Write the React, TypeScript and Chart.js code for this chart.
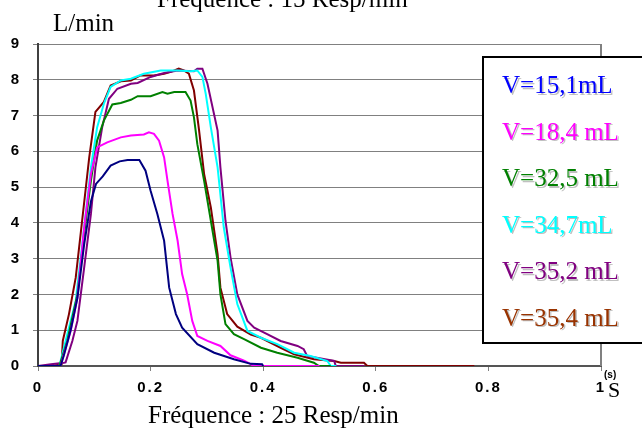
import React, { useEffect, useRef } from "react";
import { Chart, registerables } from "chart.js";

Chart.register(...registerables);

// ---- axis ticks ----
const xTickValues = [0, 0.2, 0.4, 0.6, 0.8, 1];
const xTickLabels = ["0", "0.2", "0.4", "0.6", "0.8", "1"];
const yTickValues = [0, 1, 2, 3, 4, 5, 6, 7, 8, 9];
const yTickLabels = ["0", "1", "2", "3", "4", "5", "6", "7", "8", "9"];

// ---- texts ----
const topTitle = "Fréquence : 15 Resp/min";
const bottomTitle = "Fréquence : 25 Resp/min";
const yUnit = "L/min";
const xUnitSup = "(s)";
const xUnit = "S";

// ---- series ----
const seriesNames = ["V=15,1mL", "V=18,4 mL", "V=32,5 mL", "V=34,7mL", "V=35,2 mL", "V=35,4 mL"];
const lineColors = ["#000080", "#FF00FF", "#008000", "#00FFFF", "#800080", "#800000"];
const legendColors = ["#0000FF", "#FF00FF", "#008000", "#00FFFF", "#800080", "#993300"];

// V=15,1 mL
const t151 = [0, 0.04, 0.046, 0.058, 0.07, 0.082, 0.094, 0.103, 0.115, 0.129, 0.145, 0.159, 0.18, 0.191, 0.2, 0.212, 0.224, 0.233, 0.245, 0.256, 0.283, 0.313, 0.348, 0.378, 0.398, 0.4];
const f151 = [0, 0, 0.3, 1.0, 1.9, 3.4, 4.6, 5.09, 5.3, 5.6, 5.72, 5.76, 5.76, 5.46, 4.9, 4.25, 3.5, 2.19, 1.45, 1.07, 0.61, 0.37, 0.19, 0.06, 0.05, 0];

// V=18,4 mL
const t184 = [0, 0.04, 0.046, 0.058, 0.07, 0.082, 0.094, 0.105, 0.123, 0.147, 0.165, 0.188, 0.197, 0.206, 0.215, 0.224, 0.23, 0.239, 0.248, 0.256, 0.265, 0.274, 0.283, 0.301, 0.324, 0.342, 0.366, 0.378, 0.383, 0.5];
const f184 = [0, 0, 0.33, 0.98, 1.91, 3.87, 5.37, 6.11, 6.25, 6.39, 6.44, 6.47, 6.53, 6.49, 6.3, 5.83, 5.18, 4.25, 3.5, 2.57, 2.0, 1.26, 0.84, 0.7, 0.56, 0.3, 0.15, 0.05, 0, 0];

// V=32,5 mL
const t325 = [0, 0.038, 0.052, 0.07, 0.082, 0.094, 0.105, 0.117, 0.132, 0.147, 0.165, 0.177, 0.2, 0.221, 0.23, 0.242, 0.262, 0.271, 0.277, 0.283, 0.295, 0.307, 0.319, 0.324, 0.333, 0.348, 0.366, 0.396, 0.425, 0.461, 0.49, 0.499, 0.52];
const f325 = [0, 0, 0.7, 2.0, 3.69, 5.18, 6.3, 6.86, 7.31, 7.35, 7.44, 7.54, 7.54, 7.66, 7.61, 7.66, 7.66, 7.42, 6.95, 6.2, 5.18, 4.06, 2.94, 2.0, 1.17, 0.89, 0.75, 0.51, 0.37, 0.23, 0.09, 0, 0];

// V=34,7 mL
const t347 = [0, 0.038, 0.052, 0.067, 0.082, 0.094, 0.105, 0.117, 0.129, 0.147, 0.165, 0.188, 0.218, 0.248, 0.271, 0.283, 0.292, 0.298, 0.307, 0.319, 0.33, 0.342, 0.354, 0.372, 0.396, 0.425, 0.455, 0.484, 0.514, 0.52, 0.53];
const f347 = [0, 0, 0.89, 1.82, 3.87, 5.55, 6.67, 7.33, 7.8, 7.98, 8.03, 8.17, 8.26, 8.26, 8.24, 8.26, 8.08, 7.6, 6.67, 5.55, 3.87, 2.75, 1.73, 0.98, 0.79, 0.61, 0.37, 0.28, 0.14, 0, 0];

// V=35,2 mL
const t352 = [0, 0.023, 0.046, 0.049, 0.061, 0.07, 0.082, 0.094, 0.102, 0.114, 0.126, 0.141, 0.165, 0.177, 0.2, 0.224, 0.248, 0.277, 0.283, 0.292, 0.301, 0.319, 0.324, 0.333, 0.342, 0.354, 0.372, 0.384, 0.407, 0.431, 0.461, 0.472, 0.478, 0.526, 0.529, 0.58];
const f352 = [0, 0.05, 0.09, 0.1, 0.7, 1.26, 2.75, 4.25, 5.55, 6.67, 7.47, 7.75, 7.89, 7.91, 8.08, 8.19, 8.26, 8.24, 8.31, 8.31, 7.89, 6.58, 5.55, 4.06, 3.03, 2.0, 1.26, 1.07, 0.89, 0.7, 0.56, 0.47, 0.28, 0.14, 0, 0];

// V=35,4 mL
const t354 = [0, 0.025, 0.042, 0.044, 0.055, 0.067, 0.079, 0.091, 0.102, 0.117, 0.129, 0.147, 0.165, 0.182, 0.206, 0.224, 0.236, 0.25, 0.259, 0.268, 0.277, 0.286, 0.295, 0.307, 0.319, 0.324, 0.336, 0.354, 0.378, 0.396, 0.431, 0.455, 0.49, 0.526, 0.538, 0.579, 0.585, 0.775];
const f354 = [0, 0, 0.05, 0.7, 1.45, 2.47, 4.15, 5.83, 7.1, 7.38, 7.84, 7.96, 7.98, 8.12, 8.12, 8.17, 8.22, 8.31, 8.26, 8.17, 7.7, 6.6, 5.37, 4.43, 3.13, 2.19, 1.45, 1.1, 0.88, 0.79, 0.51, 0.33, 0.19, 0.14, 0.09, 0.09, 0, 0];

const seriesT = [t151, t184, t325, t347, t352, t354];
const seriesF = [f151, f184, f325, f347, f352, f354];

const SERIF = '"Liberation Serif", "Times New Roman", serif';
const SANS = '"Liberation Sans", Arial, sans-serif';

const decor = {
  id: "decor",
  beforeDraw(chart: any) {
    const ctx = chart.ctx;
    ctx.save();
    ctx.fillStyle = "#ffffff";
    ctx.fillRect(0, 0, chart.width, chart.height);
    ctx.restore();
    try { ctx.letterSpacing = "2px"; } catch (e) {}
  },
  beforeDatasetsDraw(chart: any) {
    try { chart.ctx.letterSpacing = "0px"; } catch (e) {}
  },
  afterDraw(chart: any) {
    const ctx = chart.ctx;
    const a = chart.chartArea;
    ctx.save();
    try { ctx.letterSpacing = "0px"; } catch (e) {}
    // right border of plot area
    ctx.strokeStyle = "#808080";
    ctx.lineWidth = 2;
    ctx.beginPath();
    ctx.moveTo(a.right, a.top);
    ctx.lineTo(a.right, a.bottom);
    ctx.stroke();

    // legend box
    const bx = 483, by = 57, bw = 175, bh = 286;
    ctx.fillStyle = "#ffffff";
    ctx.fillRect(bx, by, bw, bh);
    ctx.strokeStyle = "#000000";
    ctx.lineWidth = 2;
    ctx.strokeRect(bx, by, bw, bh);

    ctx.font = `25px ${SERIF}`;
    ctx.textAlign = "left";
    ctx.textBaseline = "alphabetic";
    seriesNames.forEach((name, i) => {
      const y = 93 + i * 46.5;
      ctx.fillStyle = "rgba(140,140,140,0.55)";
      ctx.fillText(name, 503.5, y + 1.5);
      ctx.fillStyle = legendColors[i];
      ctx.fillText(name, 502, y);
    });

    // titles
    ctx.fillStyle = "#000000";
    ctx.font = `25px ${SERIF}`;
    ctx.textAlign = "left";
    ctx.fillText(topTitle, 157, 7);
    ctx.fillText(yUnit, 53, 31);
    ctx.fillText(bottomTitle, 148, 423);

    ctx.font = `bold 10px ${SANS}`;
    ctx.fillText(xUnitSup, 604, 378);
    ctx.font = `22px ${SERIF}`;
    ctx.fillText(xUnit, 608, 397);
    ctx.restore();
  },
};

export default function App() {
  const ref = useRef<HTMLCanvasElement | null>(null);
  useEffect(() => {
    if (!ref.current) return;
    const datasets = seriesNames.map((name, i) => ({
      label: name,
      data: seriesT[i].map((x, j) => ({ x, y: seriesF[i][j] })),
      showLine: true,
      borderColor: lineColors[i],
      backgroundColor: lineColors[i],
      borderWidth: 2,
      pointRadius: 0,
      fill: false,
      tension: 0,
    }));
    const chart = new Chart(ref.current, {
      type: "scatter",
      data: { datasets },
      options: {
        animation: false,
        responsive: false,
        devicePixelRatio: 1,
        layout: { padding: { top: 44, right: 41, left: 0, bottom: 0 } },
        plugins: { legend: { display: false }, tooltip: { enabled: false } },
        scales: {
          x: {
            type: "linear",
            min: 0,
            max: 1,
            afterBuildTicks: (s: any) => {
              s.ticks = xTickValues.map((v) => ({ value: v }));
            },
            afterFit: (s: any) => {
              s.height = 63;
            },
            grid: { drawOnChartArea: false, drawTicks: true, tickLength: 5, color: "#808080", lineWidth: 1 },
            border: { color: "#555555", width: 2 },
            ticks: {
              callback: (v: any, i: number) => xTickLabels[i],
              font: { family: SANS, size: 15, weight: "bold" },
              color: "#000000",
              padding: 8,
              maxRotation: 0,
              autoSkip: false,
            },
          },
          y: {
            type: "linear",
            min: 0,
            max: 9,
            afterBuildTicks: (s: any) => {
              s.ticks = yTickValues.map((v) => ({ value: v }));
            },
            afterFit: (s: any) => {
              s.width = 38;
            },
            grid: { color: "#808080", lineWidth: 1, tickLength: 5, drawTicks: true },
            border: { color: "#404040", width: 2 },
            ticks: {
              callback: (v: any, i: number) => yTickLabels[i],
              font: { family: SANS, size: 15, weight: "bold" },
              color: "#000000",
              padding: 12,
              autoSkip: false,
            },
          },
        },
      } as any,
      plugins: [decor],
    });
    return () => chart.destroy();
  }, []);
  return (
    <canvas
      ref={ref}
      width={642}
      height={429}
      style={{ position: "fixed", left: 0, top: 0, width: 642, height: 429, display: "block" }}
    />
  );
}
